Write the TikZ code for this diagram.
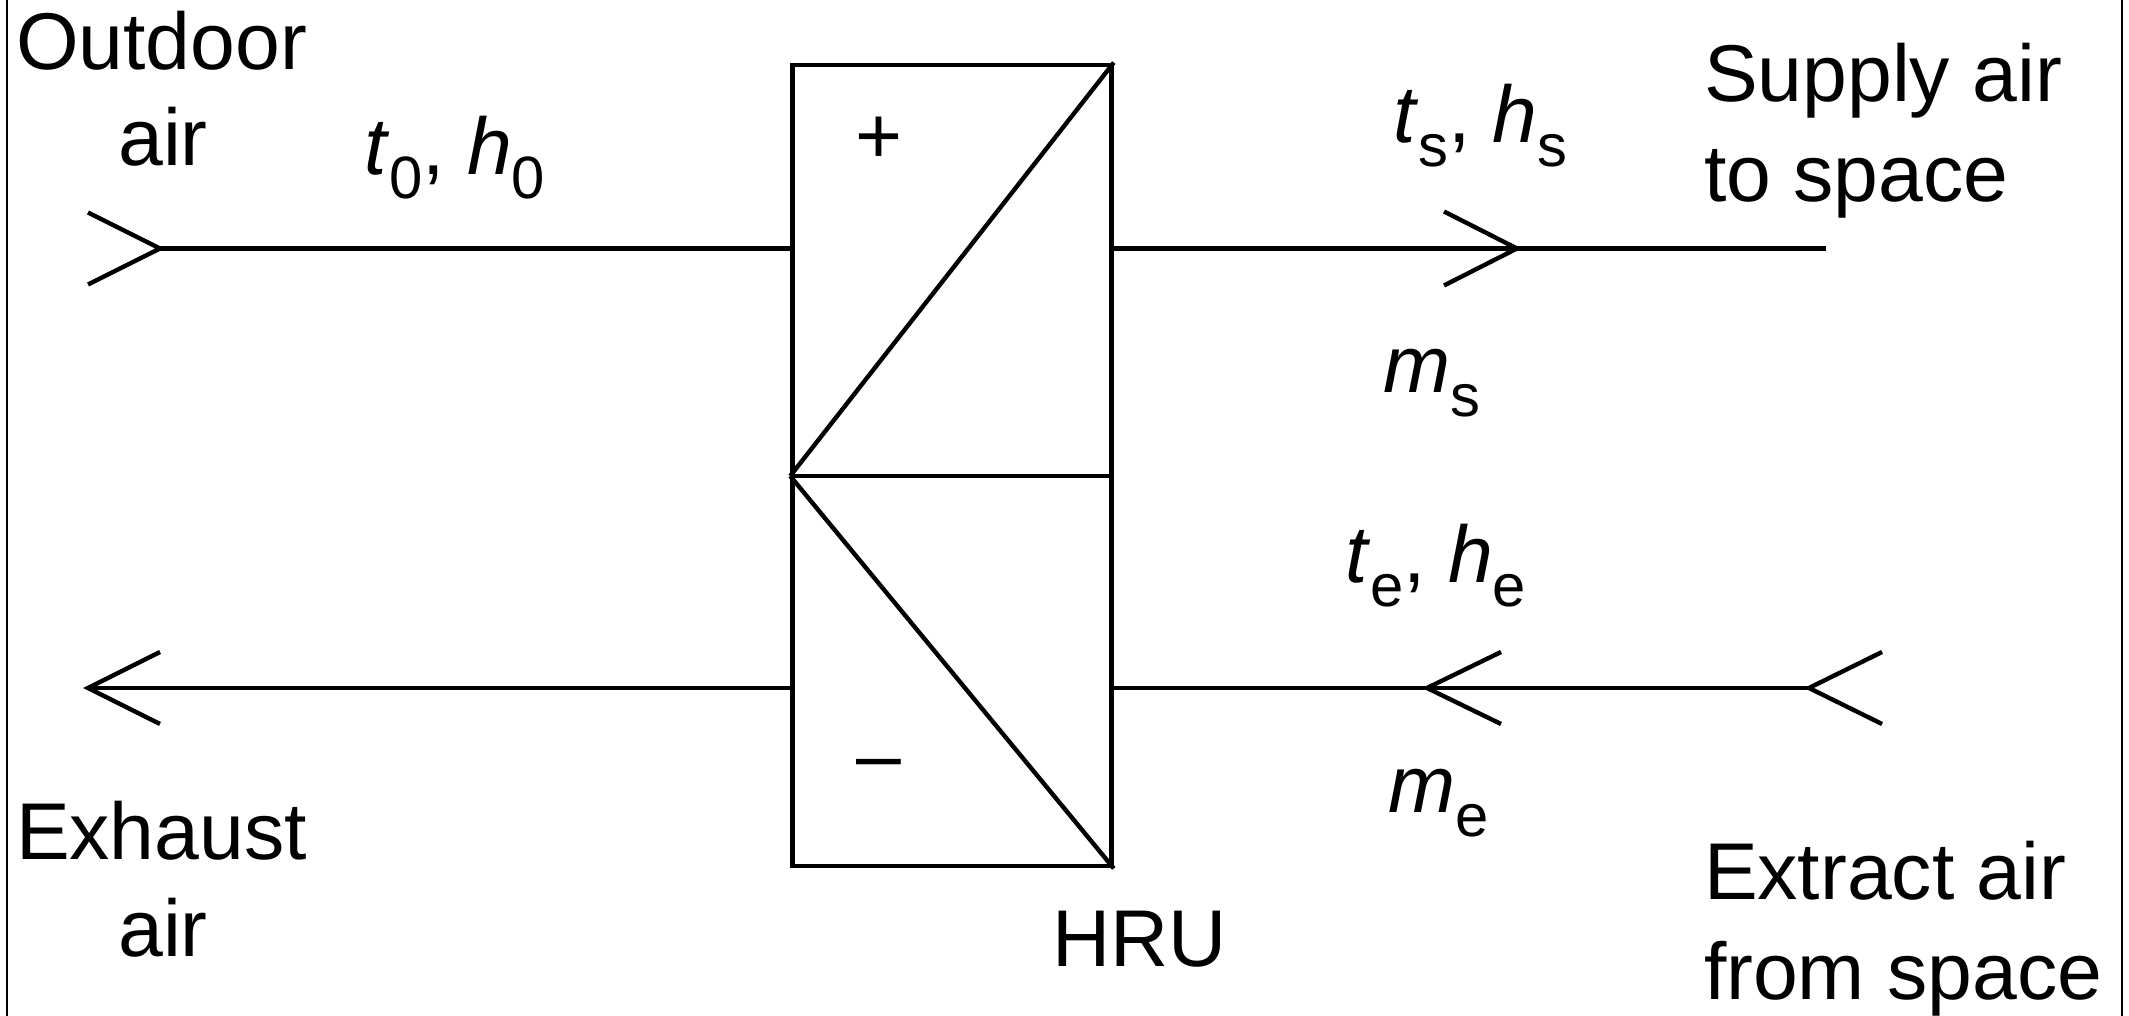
\documentclass[tikz,border=0pt]{standalone}
\usepackage{fontspec}
\setmainfont{Liberation Sans}
\newcommand{\mysub}[1]{\raisebox{-6.8pt}{\fontsize{17}{17}\selectfont #1}}
\begin{document}
\begin{tikzpicture}[x=0.01cm,y=-0.01cm,line width=1.25pt,
  txt/.style={inner sep=0pt,outer sep=0pt,font=\fontsize{22.9}{27.9}\selectfont},
  lw/.style={txt,anchor=base west},
  lc/.style={txt,anchor=base},
  frame/.style={line width=0.8pt}]
\useasboundingbox (0,0) rectangle (2129,1016);
% frame sides
\coordinate (fl1) at (7,0); \coordinate (fl2) at (7,1016);
\coordinate (fr1) at (2122,0); \coordinate (fr2) at (2122,1016);
\draw[frame] (fl1) -- (fl2);
\draw[frame] (fr1) -- (fr2);
% heat recovery unit
\node[draw,inner sep=0pt,minimum width=3.19cm,minimum height=8.01cm] (hru) at (952,465.5) {};
\coordinate (midy) at (0,476);
\coordinate (ml) at (hru.west |- midy);
\coordinate (mr) at (hru.east |- midy);
\draw (ml) -- (mr);
\draw (ml) -- (hru.north east);
\draw (ml) -- (hru.south east);
\node[txt] (plus) at (879,140) {+};
\node[txt] (minus) at (879,771) {–};
% supply stream
\coordinate (oa) at (160,248.5);
\coordinate (sa) at (1826,248.5);
\coordinate (sc) at (1517,248.5);
\draw (oa) -- (oa -| hru.west);
\draw (oa -| hru.east) -- (sa);
\draw ([shift={(-72,-36)}]oa) -- (oa) -- ([shift={(-72,36)}]oa);
\draw ([shift={(-73,-37)}]sc) -- (sc) -- ([shift={(-73,37)}]sc);
% extract stream
\coordinate (ex) at (88,688);
\coordinate (ea) at (1809,688);
\coordinate (ec) at (1427,688);
\draw (ex) -- (ex -| hru.west);
\draw (ea) -- (ea -| hru.east);
\draw ([shift={(72,-36)}]ex) -- (ex) -- ([shift={(72,36)}]ex);
\draw ([shift={(74,-36)}]ec) -- (ec) -- ([shift={(74,36)}]ec);
\draw ([shift={(73,-36)}]ea) -- (ea) -- ([shift={(73,36)}]ea);
% labels
\node[lw] (od1) at (16,70) {Outdoor};
\node[lc] (od2) at (163,166) {air};
\node[lw] (eh1) at (16,860) {Exhaust};
\node[lc] (eh2) at (163,957) {air};
\node[lw] (su1) at (1704,102) {Supply air};
\node[lw] (su2) at (1704,202) {to space};
\node[lw] (xt1) at (1704,900) {Extract air};
\node[lw] (xt2) at (1704,1000) {from space};
\node[lw] (hrulbl) at (1052,967) {HRU};
\node[lw] (t0) at (364,175) {\textit{t}\mysub{0}, \textit{h}\mysub{0}};
\node[lw] (ts) at (1393,143) {\textit{t}\mysub{s}, \textit{h}\mysub{s}};
\node[lw] (ms) at (1383,393) {\textit{m}\mysub{s}};
\node[lw] (te) at (1345,583) {\textit{t}\mysub{e}, \textit{h}\mysub{e}};
\node[lw] (me) at (1388,813) {\textit{m}\mysub{e}};
\end{tikzpicture}
\end{document}
